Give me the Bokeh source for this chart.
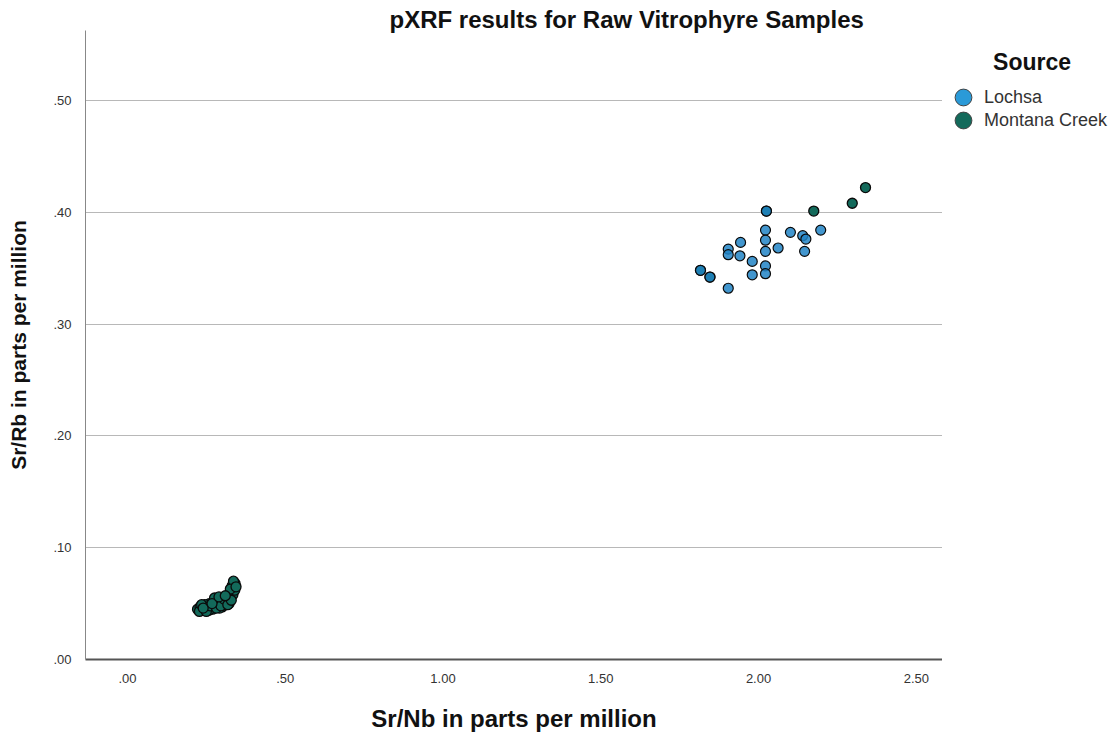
from bokeh.plotting import figure
from bokeh.layouts import row
from bokeh.models import ColumnDataSource, Range1d, FixedTicker, Legend, LegendItem, CustomJSTickFormatter
from bokeh.embed import file_html
from bokeh.resources import INLINE

# ---- data ----
lochsa_x = [2.197, 2.101, 2.140, 2.146, 2.150, 2.062, 2.022, 2.022, 2.022, 2.022, 2.022,
            1.980, 1.980, 1.943, 1.941, 1.904, 1.904, 1.816, 1.846, 1.904, 2.025]
lochsa_y = [0.384, 0.382, 0.379, 0.365, 0.376, 0.368, 0.384, 0.375, 0.365, 0.352, 0.345,
            0.356, 0.344, 0.373, 0.361, 0.367, 0.362, 0.348, 0.342, 0.332, 0.401]

montana_x = [2.339, 2.297, 2.175, 2.025, 1.816, 1.846,
             0.222, 0.230, 0.238, 0.245, 0.252, 0.260, 0.266, 0.273, 0.280, 0.288,
             0.295, 0.302, 0.308, 0.314, 0.318, 0.322, 0.326, 0.330, 0.334, 0.338,
             0.341, 0.332, 0.300, 0.270, 0.245, 0.285, 0.312, 0.228, 0.258, 0.292,
             0.322, 0.340, 0.336, 0.276, 0.235, 0.250, 0.262, 0.282, 0.296, 0.306,
             0.318, 0.326, 0.344, 0.329, 0.240, 0.268, 0.290, 0.310]
montana_y = [0.422, 0.408, 0.401, 0.401, 0.348, 0.342,
             0.045, 0.047, 0.045, 0.048, 0.046, 0.050, 0.047, 0.051, 0.049, 0.052,
             0.050, 0.053, 0.051, 0.055, 0.052, 0.058, 0.055, 0.061, 0.058, 0.064,
             0.068, 0.066, 0.047, 0.045, 0.049, 0.053, 0.049, 0.043, 0.044, 0.046,
             0.050, 0.062, 0.070, 0.055, 0.049, 0.043, 0.048, 0.046, 0.048, 0.054,
             0.049, 0.063, 0.065, 0.053, 0.046, 0.050, 0.056, 0.057]

series_names = ["Lochsa", "Montana Creek"]
x_ticks = [0.0, 0.5, 1.0, 1.5, 2.0, 2.5]
y_ticks = [0.0, 0.1, 0.2, 0.3, 0.4, 0.5]

LOCHSA = "#2184c6"
MONTANA = "#136a5b"
FONT = "Liberation Sans"

p = figure(width=942, height=734, output_backend="svg", toolbar_location=None,
           x_range=Range1d(-0.133, 2.583), y_range=Range1d(0, 0.5625),
           min_border_left=85, min_border_right=0, min_border_top=30, min_border_bottom=75)
p.outline_line_color = None
p.background_fill_color = "white"

p.title.text = "pXRF results for Raw Vitrophyre Samples"
p.title.text_font = FONT
p.title.text_font_size = "24px"
p.title.text_font_style = "bold"
p.title.text_color = "#111111"
p.title.align = "left"
p.title.offset = 304
p.title.standoff = -5

fmt = CustomJSTickFormatter(code="""
    var s = tick.toFixed(2);
    if (s.startsWith('0')) s = s.substring(1);
    return s;
""")

# x axis
xa = p.xaxis[0]
xa.ticker = FixedTicker(ticks=x_ticks)
xa.formatter = fmt
xa.major_tick_line_color = None
xa.minor_tick_line_color = None
xa.axis_line_color = "#555555"
xa.axis_line_width = 2
xa.major_label_text_font = FONT
xa.major_label_text_font_size = "13px"
xa.major_label_text_color = "#333333"
xa.major_label_standoff = 8
xa.axis_label = "Sr/Nb in parts per million"
xa.axis_label_text_font = FONT
xa.axis_label_text_font_size = "24px"
xa.axis_label_text_font_style = "bold"
xa.axis_label_text_color = "#111111"
xa.axis_label_standoff = 19

ya = p.yaxis[0]
ya.ticker = FixedTicker(ticks=y_ticks)
ya.formatter = fmt
ya.major_tick_line_color = None
ya.minor_tick_line_color = None
ya.axis_line_color = "#888888"
ya.axis_line_width = 1
ya.major_label_text_font = FONT
ya.major_label_text_font_size = "13px"
ya.major_label_text_color = "#333333"
ya.major_label_standoff = 8
ya.axis_label = "Sr/Rb in parts per million"
ya.axis_label_text_font = FONT
ya.axis_label_text_font_size = "21px"
ya.axis_label_text_font_style = "bold"
ya.axis_label_text_color = "#111111"
ya.axis_label_standoff = 20

p.xgrid.grid_line_color = None
p.ygrid.ticker = FixedTicker(ticks=[0.1, 0.2, 0.3, 0.4, 0.5])
p.ygrid.grid_line_color = "#b8b8b8"
p.ygrid.grid_line_width = 1

src_m = ColumnDataSource(dict(x=montana_x, y=montana_y))
src_l = ColumnDataSource(dict(x=lochsa_x, y=lochsa_y))

p.scatter("x", "y", source=src_m, size=10, fill_color=MONTANA, fill_alpha=1.0,
          line_color="#0a0a0a", line_width=1.3)
p.scatter("x", "y", source=src_l, size=10, fill_color=LOCHSA, fill_alpha=0.85,
          line_color="#0a0a0a", line_width=1.2)

# ---- legend panel ----
p2 = figure(width=172, height=734, output_backend="svg", toolbar_location=None,
            x_range=Range1d(0, 1), y_range=Range1d(0, 1),
            x_axis_location=None, y_axis_location=None,
            min_border_left=0, min_border_right=0, min_border_bottom=75, min_border_top=30)
p2.outline_line_color = None
p2.grid.visible = False

nan = float("nan")
lg_l = p2.scatter(x=[nan], y=[nan], fill_color="#2a9ad8", line_color="#444444", line_width=1)
lg_m = p2.scatter(x=[nan], y=[nan], fill_color=MONTANA, line_color="#444444", line_width=1)

common = dict(label_text_font=FONT, label_text_font_size="18px", label_text_color="#333333",
              glyph_width=42, glyph_height=42, label_height=20, label_standoff=0,
              spacing=0, padding=0, margin=0, background_fill_alpha=0,
              border_line_color=None)

legend_a = Legend(items=[LegendItem(label=series_names[0], renderers=[lg_l])],
                  location=(0, 541), title="\u00a0" * 8 + "Source",
                  title_text_font=FONT, title_text_font_size="23px",
                  title_text_font_style="bold", title_text_color="#111111",
                  title_standoff=0, **common)
legend_b = Legend(items=[LegendItem(label=series_names[1], renderers=[lg_m])],
                  location=(0, 518), **common)
p2.add_layout(legend_a, "center")
p2.add_layout(legend_b, "center")

open("out.html", "w").write(file_html(row(p, p2), INLINE))
